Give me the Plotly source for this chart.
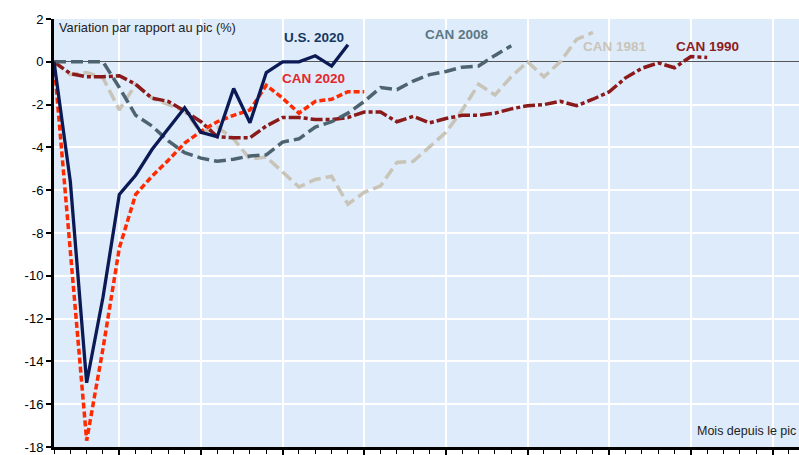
import plotly.graph_objects as go

# ---- data (percent change from peak, by months since peak) ----
us_2020 = [0, -5.6, -15.0, -11.0, -6.2, -5.3, -4.1, -3.1, -2.15, -3.3, -3.5,
           -1.25, -2.85, -0.5, 0.0, 0.0, 0.28, -0.2, 0.8]
can_2020 = [0, -8.8, -17.7, -13.4, -8.7, -6.2, -5.35, -4.6, -3.8, -3.25, -2.8,
            -2.5, -2.25, -1.1, -1.7, -2.4, -1.85, -1.75, -1.4, -1.4]
can_2008 = [0, 0, 0, 0, -1.2, -2.5, -3.0, -3.7, -4.25, -4.5, -4.65, -4.55,
            -4.4, -4.35, -3.75, -3.6, -3.05, -2.8, -2.4, -1.85, -1.2, -1.3,
            -0.9, -0.6, -0.45, -0.25, -0.2, 0.3, 0.75]
can_1981 = [0, -0.6, -0.5, -0.75, -2.25, -1.05, -1.7, -2.0, -2.3, -3.3, -3.05,
            -3.6, -4.55, -4.45, -5.15, -5.85, -5.5, -5.35, -6.65, -6.1, -5.8,
            -4.7, -4.65, -4.0, -3.3, -2.25, -1.05, -1.55, -0.7, 0.0, -0.7, 0.0,
            1.05, 1.37]
can_1990 = [0, -0.55, -0.7, -0.7, -0.65, -1.05, -1.7, -1.85, -2.3, -2.8, -3.5,
            -3.55, -3.55, -3.0, -2.6, -2.6, -2.7, -2.7, -2.6, -2.35, -2.35,
            -2.8, -2.55, -2.85, -2.65, -2.5, -2.5, -2.4, -2.2, -2.05, -2.0,
            -1.85, -2.05, -1.75, -1.4, -0.75, -0.3, -0.05, -0.28, 0.25, 0.2]

series_names = ["CAN 1981", "CAN 1990", "CAN 2008", "CAN 2020", "U.S. 2020"]
y_ticks = [2, 0, -2, -4, -6, -8, -10, -12, -14, -16, -18]
y_ticktext = ["2", "0", "-2", "-4", "-6", "-8", "-10", "-12", "-14", "-16", "-18"]
x_major = [4, 9, 14, 19, 24, 29, 34, 39, 44]

FONT = "Arial, Liberation Sans, sans-serif"

styles = {
    "CAN 1981": dict(color="#c9c4b8", width=3.5, dash="12px,5px"),
    "CAN 1990": dict(color="#8b1a1a", width=3.5, dash="12px,3px,4px,3px"),
    "CAN 2008": dict(color="#4d6470", width=3.5, dash="12px,5px"),
    "CAN 2020": dict(color="#ff2a00", width=3.5, dash="6px,3px"),
    "U.S. 2020": dict(color="#0b1a55", width=3.3, dash="solid"),
}
data_map = {"CAN 1981": can_1981, "CAN 1990": can_1990, "CAN 2008": can_2008,
            "CAN 2020": can_2020, "U.S. 2020": us_2020}

fig = go.Figure()
for name in series_names:
    vals = data_map[name]
    fig.add_trace(go.Scatter(x=list(range(len(vals))), y=vals, mode="lines",
                             name=name, line=styles[name]))

labels = [
    ("U.S. 2020", 13.95, 1.14, "#17375e"),
    ("CAN 2020", 13.84, -0.78, "#e5262b"),
    ("CAN 2008", 22.6, 1.28, "#5a7884"),
    ("CAN 1981", 32.3, 0.72, "#c9c4b9"),
    ("CAN 1990", 37.97, 0.72, "#8d1c1f"),
]
for txt, x, y, c in labels:
    fig.add_annotation(x=x, y=y, xref="x", yref="y", text="<b>%s</b>" % txt,
                       showarrow=False, xanchor="left", yanchor="middle",
                       font=dict(family=FONT, size=13.5, color=c))

fig.add_annotation(x=0.2, y=1.62, xref="x", yref="y",
                   text="Variation par rapport au pic (%)", showarrow=False,
                   xanchor="left", yanchor="middle",
                   font=dict(family=FONT, size=12.8, color="#222222"))
fig.add_annotation(x=0.998, y=-17.27, xref="paper", yref="y",
                   text="Mois depuis le pic", showarrow=False,
                   xanchor="right", yanchor="middle",
                   font=dict(family=FONT, size=12.5, color="#222222"))

fig.update_layout(
    width=799, height=455,
    margin=dict(l=54, r=0, t=19, b=8),
    paper_bgcolor="white",
    plot_bgcolor="#deebfb",
    showlegend=False,
    font=dict(family=FONT, size=13, color="black"),
)
fig.update_xaxes(
    range=[0, 45.62], tickvals=x_major, showticklabels=False,
    showgrid=True, gridcolor="white", gridwidth=1.5,
    showline=True, linecolor="black", linewidth=2.5,
    ticks="outside", ticklen=6, tickwidth=1.5, tickcolor="black",
    minor=dict(dtick=1, tick0=0, ticks="outside", ticklen=4, tickwidth=1,
               tickcolor="black", showgrid=False),
    zeroline=False,
)
fig.update_yaxes(
    range=[-18, 2], tickvals=y_ticks, ticktext=y_ticktext,
    showgrid=True, gridcolor="white", gridwidth=1.5,
    showline=True, linecolor="black", linewidth=3,
    ticks="outside", ticklen=5, tickwidth=1.5, tickcolor="black",
    zeroline=True, zerolinecolor="#555555", zerolinewidth=1.3,
    tickfont=dict(family=FONT, size=13, color="black"),
)

fig.write_html(
    "out.html",
    config={"displayModeBar": False},
    post_script="document.body.style.margin='0';"
                "document.body.style.overflow='hidden';",
)
